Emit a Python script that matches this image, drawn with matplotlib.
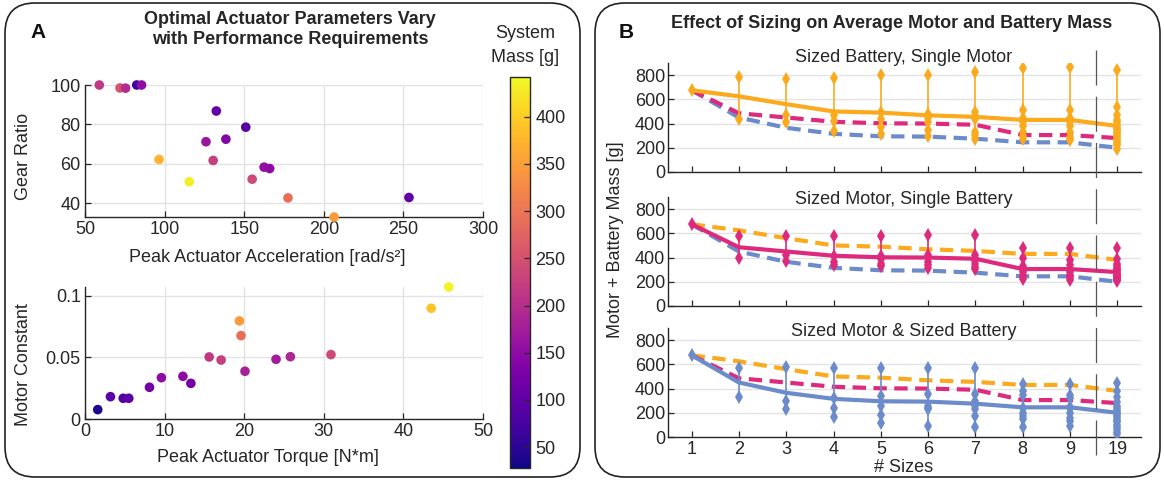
import matplotlib.pyplot as plt
import matplotlib.transforms as mtransforms
from matplotlib.patches import FancyBboxPatch
from matplotlib.lines import Line2D

plt.rcParams['font.family'] = ['Liberation Sans', 'DejaVu Sans']
plt.rcParams['font.size'] = 13

W, H = 1164, 480

# ---- panel A data ----
accel = [59, 72, 75.5, 82.5, 85.5, 132.5, 151, 126, 138.5, 96.5, 130.5, 115.5,
         162.5, 166, 155, 177.5, 253.5, 206.5]
gear_ratio = [100, 98.5, 98.4, 100, 100, 86.8, 78.6, 71.2, 72.5, 62.2, 61.7, 50.9,
              58.3, 57.6, 52.2, 42.7, 42.9, 33]
mass_accel = [215, 255, 195, 70, 150, 105, 90, 165, 135, 375, 225, 430,
              155, 150, 240, 290, 100, 345]

torque = [1.6, 3.2, 4.8, 5.5, 8.1, 9.6, 12.3, 13.3, 15.6, 17.1, 19.4, 19.6,
          20.1, 24.0, 25.8, 30.9, 43.5, 45.7]
motor_const = [0.0076, 0.0181, 0.0168, 0.0168, 0.0257, 0.0335, 0.0346, 0.0289,
               0.0503, 0.0478, 0.0795, 0.0676, 0.0387, 0.0484, 0.0505, 0.0522,
               0.0898, 0.107]
mass_torque = [40, 95, 90, 95, 120, 150, 150, 125, 215, 225, 345, 290,
               180, 175, 190, 240, 390, 435]

# ---- panel B data ----
n_sizes = ['1', '2', '3', '4', '5', '6', '7', '8', '9', '19']

battery_mean = [675, 625, 560, 500, 490, 468, 455, 430, 430, 380]
motor_mean = [675, 485, 450, 415, 402, 400, 390, 305, 305, 280]
both_mean = [675, 450, 365, 315, 295, 292, 275, 245, 245, 200]

battery_sized = [
    [675],
    [785, 440],
    [765, 470, 415],
    [775, 470, 420, 335],
    [800, 497, 441, 372, 312],
    [800, 483, 450, 414, 345, 295],
    [828, 497, 460, 441, 330, 303, 276],
    [855, 510, 450, 414, 380, 331, 300, 276],
    [869, 510, 450, 414, 380, 331, 290, 270, 262],
    [841, 538, 470, 428, 410, 386, 370, 359, 345, 331, 318, 303, 290, 275, 262,
     245, 232, 221, 193],
]
motor_sized = [
    [675],
    [580, 400],
    [580, 420, 370],
    [580, 410, 360, 335],
    [580, 410, 390, 350, 330],
    [585, 420, 395, 365, 335, 310],
    [585, 420, 400, 370, 345, 320, 305],
    [475, 400, 330, 300, 280, 260, 245, 225],
    [475, 380, 340, 300, 280, 260, 245, 230, 215],
    [475, 392, 350, 330, 315, 305, 295, 285, 275, 268, 260, 252, 245, 238, 232,
     226, 220, 215, 210],
]
both_sized = [
    [675],
    [570, 330],
    [575, 300, 235],
    [570, 320, 240, 165],
    [570, 335, 255, 180, 115],
    [570, 355, 260, 240, 230, 90],
    [570, 355, 300, 260, 230, 170, 85],
    [440, 380, 350, 240, 200, 170, 150, 85],
    [440, 345, 320, 250, 240, 200, 160, 130, 90],
    [445, 380, 330, 290, 260, 240, 225, 210, 195, 180, 165, 150, 135, 120, 100,
     85, 65, 45, 25],
]

ORANGE = '#FBAA1E'
PINK = '#DE2A7C'
BLUE = '#6C8BCB'
DARK = '#262626'
GRID = '#E3E3E3'


def px_axes(left, top, right, bottom):
    return [left / W, 1 - bottom / H, (right - left) / W, (bottom - top) / H]


def style_axes(ax, xgrid=True):
    for s in ['top', 'right']:
        ax.spines[s].set_visible(False)
    for s in ['left', 'bottom']:
        ax.spines[s].set_color(DARK)
        ax.spines[s].set_linewidth(1.0)
    ax.tick_params(direction='in', length=4, width=0.9, colors=DARK,
                   labelsize=13, pad=3)
    ax.set_axisbelow(True)
    ax.grid(True, axis='y', color=GRID, lw=1)
    if xgrid:
        ax.grid(True, axis='x', color=GRID, lw=1)


fig = plt.figure(figsize=(W / 100, H / 100), dpi=100)

# rounded panel boxes
for x0, x1 in [(5, 580), (595, 1160)]:
    box = FancyBboxPatch((x0 / 100, 0.03), (x1 - x0) / 100, 4.74,
                         boxstyle='round,pad=0,rounding_size=0.3',
                         transform=fig.dpi_scale_trans, fc='none',
                         ec='#222222', lw=1.2)
    fig.add_artist(box)

vmin, vmax = 28, 442

# ---- Panel A top ----
ax1 = fig.add_axes(px_axes(85, 85, 483, 217))
sc = ax1.scatter(accel, gear_ratio, c=mass_accel, cmap='plasma', vmin=vmin,
                 vmax=vmax, s=48, edgecolors='none', clip_on=False, zorder=3)
ax1.set_xlim(50, 300)
ax1.set_ylim(33, 100)
ax1.set_xticks([50, 100, 150, 200, 250, 300])
ax1.set_yticks([40, 60, 80, 100])
style_axes(ax1)

# ---- Panel A bottom ----
ax2 = fig.add_axes(px_axes(85, 287, 483, 419))
ax2.scatter(torque, motor_const, c=mass_torque, cmap='plasma', vmin=vmin,
            vmax=vmax, s=48, edgecolors='none', clip_on=False, zorder=3)
ax2.set_xlim(0, 50)
ax2.set_ylim(0, 0.107)
ax2.set_xticks([0, 10, 20, 30, 40, 50])
ax2.set_yticks([0, 0.05, 0.1])
ax2.set_yticklabels(['0', '0.05', '0.1'])
style_axes(ax2)

fig.text(24 / W, 1 - 156 / H, 'Gear Ratio', rotation=90, ha='center',
         va='center', fontsize=13, color=DARK)
fig.text(24 / W, 1 - 365 / H, 'Motor Constant', rotation=90, ha='center',
         va='center', fontsize=13, color=DARK)
fig.text(267 / W, 1 - 258 / H, 'Peak Actuator Acceleration [rad/s²]',
         ha='center', va='center', fontsize=13, color=DARK)
fig.text(268 / W, 1 - 458 / H, 'Peak Actuator Torque [N*m]',
         ha='center', va='center', fontsize=13, color=DARK)

# colorbar
cax = fig.add_axes(px_axes(510, 77, 530, 468))
cb = fig.colorbar(sc, cax=cax)
cb.set_ticks([50, 100, 150, 200, 250, 300, 350, 400])
cb.outline.set_edgecolor(DARK)
cb.outline.set_linewidth(1.0)
cax.tick_params(direction='in', length=4, width=0.9, colors=DARK,
                labelsize=13, pad=4)
fig.text(525 / W, 1 - 33 / H, 'System', ha='center', va='center',
         fontsize=13, color=DARK)
fig.text(525 / W, 1 - 57 / H, 'Mass [g]', ha='center', va='center',
         fontsize=13, color=DARK)

fig.text(38 / W, 1 - 33 / H, 'A', ha='center', va='center', fontsize=15,
         fontweight='bold', color='#111111')
fig.text(290 / W, 1 - 20 / H, 'Optimal Actuator Parameters Vary',
         ha='center', va='center', fontsize=13, fontweight='bold', color=DARK)
fig.text(290 / W, 1 - 40 / H, 'with Performance Requirements',
         ha='center', va='center', fontsize=13, fontweight='bold', color=DARK)

# ---- Panel B ----
xpos = list(range(1, len(n_sizes) + 1))
panels = [
    (63, 172, 'Sized Battery, Single Motor', 57, battery_sized, ORANGE,
     battery_mean, [(both_mean, BLUE), (motor_mean, PINK)]),
    (197, 306, 'Sized Motor, Single Battery', 199, motor_sized, PINK,
     motor_mean, [(both_mean, BLUE), (battery_mean, ORANGE)]),
    (328, 437, 'Sized Motor & Sized Battery', 332, both_sized, BLUE,
     both_mean, [(battery_mean, ORANGE), (motor_mean, PINK)]),
]
b_axes = []
for top, bottom, title, ty, diamonds, col, mean, others in panels:
    ax = fig.add_axes(px_axes(668, top, 1141, bottom))
    b_axes.append(ax)
    for other, ocol in others:
        ax.plot(xpos, other, color=ocol, lw=3, ls=(0, (3.2, 1.8)),
                dash_capstyle='butt', zorder=2)
    ax.plot(xpos, mean, color=col, lw=3, zorder=3)
    for x, vals in zip(xpos, diamonds):
        ax.plot([x, x], [min(vals), max(vals)], color=col, lw=1.2, zorder=4)
        ax.plot([x] * len(vals), vals, ls='none', marker='d', ms=7.5,
                mew=0, color=col, zorder=5)
    ax.set_xlim(0.5, 10.5)
    ax.set_ylim(0, 900)
    ax.set_yticks([0, 200, 400, 600, 800])
    ax.set_xticks(xpos)
    style_axes(ax, xgrid=False)
    ax.tick_params(axis='y', pad=2)
    if bottom < 400:
        ax.set_xticklabels([])
    else:
        ax.set_xticklabels(n_sizes)
        ax.tick_params(axis='x', pad=3)
    fig.text(904 / W, 1 - ty / H, title, ha='center', va='center',
             fontsize=13, color=DARK)

# divider between 9 and 19 sizes
trans = mtransforms.blended_transform_factory(b_axes[2].transData,
                                              fig.transFigure)
fig.add_artist(Line2D([9.55, 9.55], [1 - 50 / H, 1 - 462 / H],
                      transform=trans, color='#555555', lw=0.9,
                      ls=(0, (28, 9))))

fig.text(615 / W, 1 - 240 / H, 'Motor + Battery Mass [g]', rotation=90,
         ha='center', va='center', fontsize=13, color=DARK)
fig.text(904 / W, 1 - 468 / H, '# Sizes', ha='center', va='center',
         fontsize=13, color=DARK)
fig.text(626 / W, 1 - 32 / H, 'B', ha='center', va='center', fontsize=15,
         fontweight='bold', color='#111111')
fig.text(892 / W, 1 - 24 / H,
         'Effect of Sizing on Average Motor and Battery Mass',
         ha='center', va='center', fontsize=13, fontweight='bold', color=DARK)

fig.savefig('out.png', dpi=100)
